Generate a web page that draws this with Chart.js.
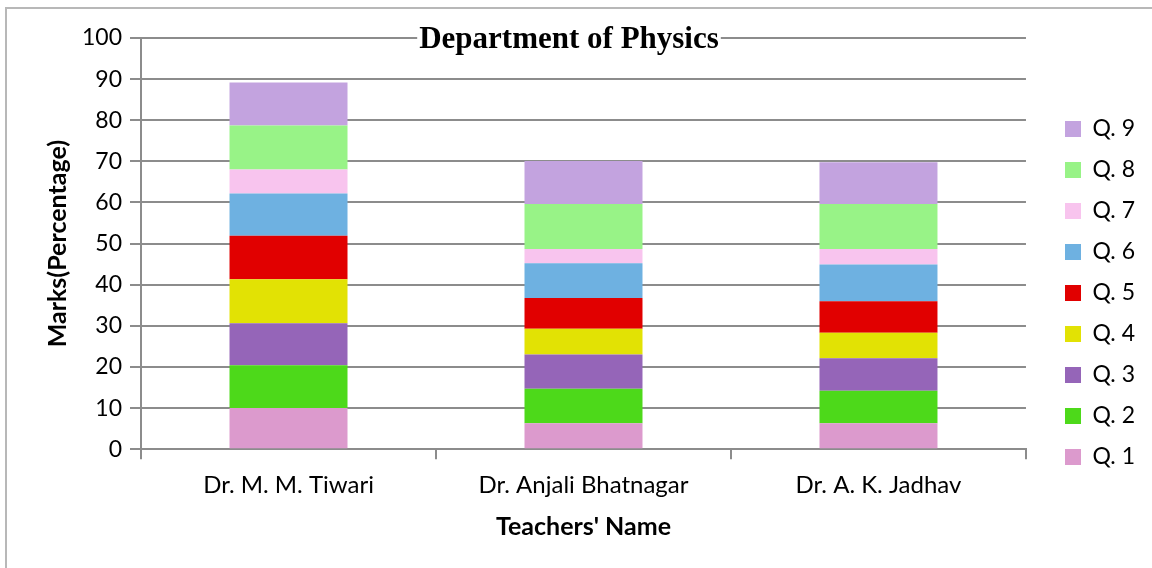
<!DOCTYPE html>
<html>
<head>
<meta charset="utf-8">
<script src="https://cdn.jsdelivr.net/npm/chart.js@4.4.0/dist/chart.umd.min.js"></script>
<style>
  body { margin: 0; background: #fff; }
  #wrap { position: relative; width: 1152px; height: 568px; }
  #frame { position: absolute; left: 5px; top: 7px; right: -4px; bottom: -4px; border: 2px solid #b8b8b8; }
  canvas { position: absolute; left: 0; top: 0; }
</style>
</head>
<body>
<div id="wrap">
  <div id="frame"></div>
  <canvas id="physicschart" width="1152" height="568"></canvas>
</div>
<script>
// teachers on the x axis
const teachers = ['Dr. M. M. Tiwari', 'Dr. Anjali Bhatnagar', 'Dr. A. K. Jadhav'];

// marks per question, one value per teacher
const q1 = [10.0, 6.3, 6.3];
const q2 = [10.4, 8.4, 7.9];
const q3 = [10.2, 8.3, 7.9];
const q4 = [10.7, 6.3, 6.2];
const q5 = [10.6, 7.5, 7.7];
const q6 = [10.3, 8.4, 8.9];
const q7 = [5.8, 3.5, 3.8];
const q8 = [10.7, 10.9, 10.9];
const q9 = [10.5, 10.5, 10.2];

const questionNames = ['Q. 1', 'Q. 2', 'Q. 3', 'Q. 4', 'Q. 5', 'Q. 6', 'Q. 7', 'Q. 8', 'Q. 9'];
const questionColors = ['#dc9acd', '#4dd91a', '#9565b8', '#e2e204', '#e10000', '#6eb1e1', '#f8c4ee', '#98f387', '#c3a3df'];
const yTicks = [0, 10, 20, 30, 40, 50, 60, 70, 80, 90, 100];

const allMarks = [q1, q2, q3, q4, q5, q6, q7, q8, q9];
const gridGrey = '#8c8c8c';
const labelFont = 'Lato, "Open Sans", sans-serif';

// title sits on top of the plot area like in the original sheet
const titlePlugin = {
    id: 'overTitle',
    afterDraw(chart) {
        const ctx = chart.ctx;
        ctx.save();
        ctx.font = 'bold 31px "Liberation Serif", "DejaVu Serif", serif';
        ctx.textAlign = 'center';
        ctx.textBaseline = 'middle';
        const text = 'Department of Physics';
        const w = ctx.measureText(text).width;
        ctx.fillStyle = '#fff';
        ctx.fillRect(569 - w / 2 - 2, 24, w + 4, 28);
        ctx.fillStyle = '#000';
        ctx.fillText(text, 569, 40);
        ctx.restore();
    }
};

// legend sits a bit away from the plot
const legendShift = {
    id: 'legendShift',
    afterLayout(chart) {
        const lg = chart.legend;
        const w = lg.right - lg.left;
        lg.left = 1047;
        lg.right = 1047 + w;
        lg.top += 3;
        lg.bottom += 3;
    }
};

const datasets = [];
for (let i = 0; i < allMarks.length; i++) {
    datasets.push({
        label: questionNames[i],
        data: allMarks[i],
        backgroundColor: questionColors[i],
        borderWidth: 0,
        barPercentage: 0.4,
        categoryPercentage: 1.0
    });
}

new Chart(document.getElementById('physicschart'), {
    type: 'bar',
    data: { labels: teachers, datasets: datasets },
    plugins: [titlePlugin, legendShift],
    options: {
        responsive: false,
        animation: false,
        layout: { padding: { top: 38, right: 28, bottom: 26, left: 30 } },
        plugins: {
            legend: {
                position: 'right',
                reverse: true,
                labels: {
                    boxWidth: 16,
                    boxHeight: 16,
                    padding: 18,
                    color: '#000',
                    font: { family: labelFont, size: 23 }
                }
            },
            tooltip: { enabled: false }
        },
        scales: {
            x: {
                stacked: true,
                grid: { display: true, drawOnChartArea: false, color: gridGrey, lineWidth: 2, tickLength: 10 },
                border: { color: gridGrey, width: 2 },
                ticks: { color: '#000', font: { family: labelFont, size: 24 }, padding: 12 },
                title: {
                    display: true,
                    text: "Teachers' Name",
                    color: '#000',
                    font: { family: labelFont, size: 25, weight: 'bold' },
                    padding: { top: 0, bottom: 0 }
                }
            },
            y: {
                stacked: true,
                min: 0,
                max: 100,
                afterBuildTicks(axis) { axis.ticks = yTicks.map(v => ({ value: v })); },
                grid: { color: gridGrey, lineWidth: 2, tickLength: 11 },
                border: { color: gridGrey, width: 2 },
                ticks: { color: '#000', font: { family: labelFont, size: 23 }, padding: 8 },
                title: {
                    display: true,
                    text: 'Marks(Percentage)',
                    color: '#000',
                    font: { family: labelFont, size: 25, weight: 'bold' },
                    padding: { top: 13, bottom: 1 }
                }
            }
        }
    }
});
</script>
</body>
</html>
